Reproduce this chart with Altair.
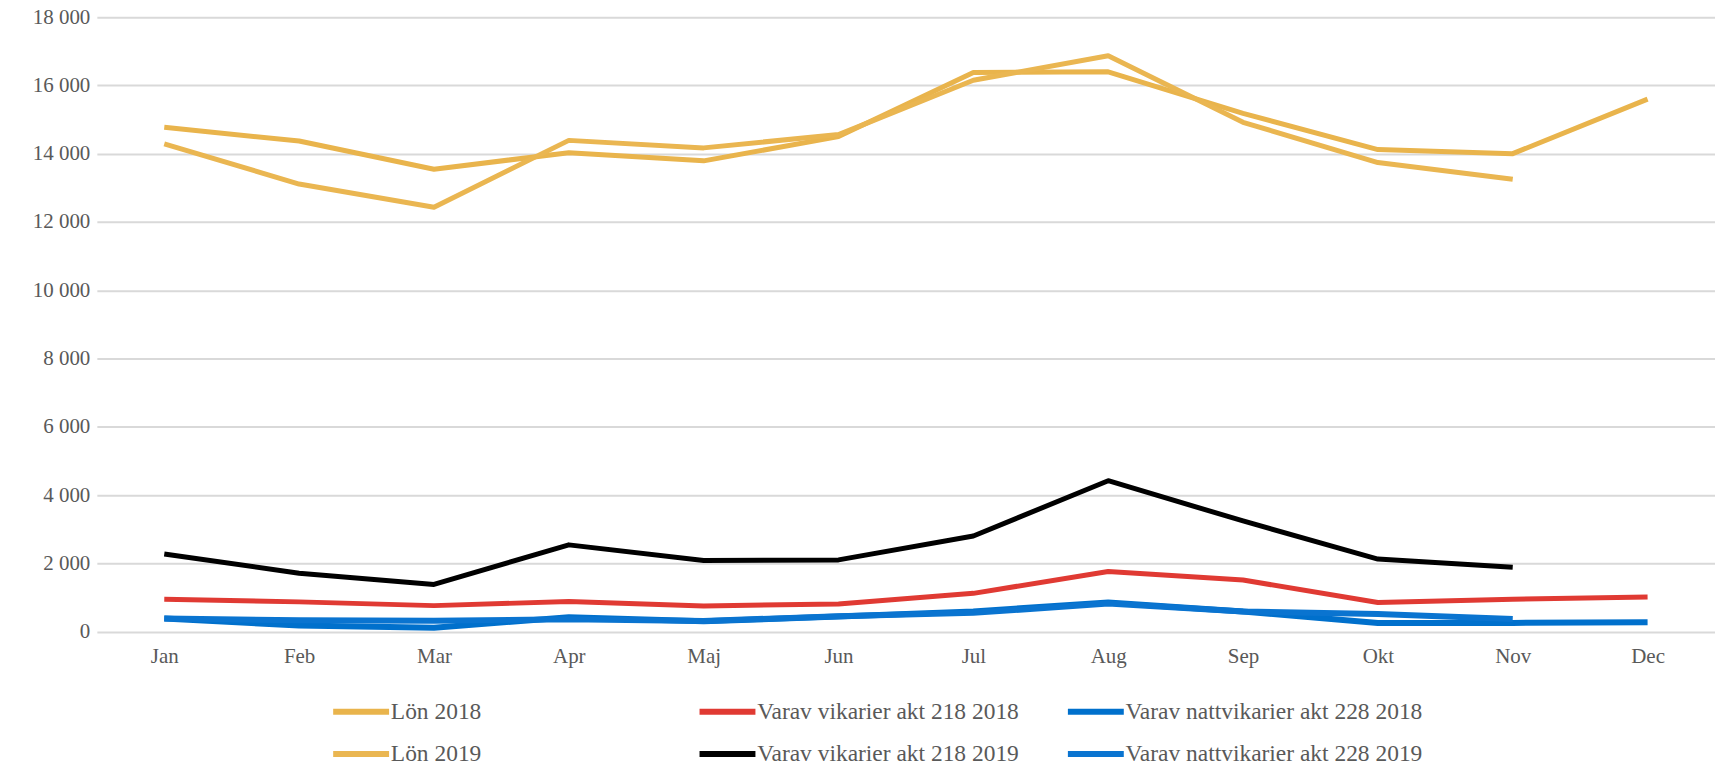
import altair as alt
import pandas as pd

months = ["Jan", "Feb", "Mar", "Apr", "Maj", "Jun", "Jul", "Aug", "Sep", "Okt", "Nov", "Dec"]

lon_2018 = [14775, 14370, 13545, 14030, 13790, 14500, 16380, 16400, 15180, 14120, 14000, 15600]
lon_2019 = [14290, 13110, 12430, 14390, 14170, 14560, 16150, 16870, 14920, 13740, 13250]
vik_2018 = [950, 870, 760, 880, 750, 810, 1120, 1760, 1510, 850, 950, 1010]
vik_2019 = [2270, 1710, 1380, 2540, 2080, 2100, 2800, 4420, 3240, 2125, 1885]
natt_2018 = [380, 175, 110, 420, 300, 440, 590, 850, 590, 254, 254, 273]
natt_2019 = [380, 330, 320, 360, 310, 450, 550, 820, 590, 517, 371]

series_names = [
    "Lön 2018", "Lön 2019",
    "Varav vikarier akt 218 2018", "Varav vikarier akt 218 2019",
    "Varav nattvikarier akt 228 2018", "Varav nattvikarier akt 228 2019",
]
series_groups = ["lon", "lon", "vik", "vik", "natt", "natt"]
series_values = [lon_2018, lon_2019, vik_2018, vik_2019, natt_2018, natt_2019]

rows = []
for name, grp, vals in zip(series_names, series_groups, series_values):
    for i, v in enumerate(vals):
        rows.append({"month": months[i], "idx": i, "value": v, "serie": name, "group": grp})
df = pd.DataFrame(rows)

FONT = "Liberation Serif"
TXT = "#595959"

x_axis = alt.Axis(title=None, labelAngle=0, ticks=False, domain=False, grid=False,
                  labelFont=FONT, labelFontSize=21, labelColor=TXT, labelPadding=14)
y_axis = alt.Axis(title=None, values=list(range(0, 18001, 2000)), ticks=False, domain=False,
                  gridColor="#D9D9D9", gridWidth=2, labelFont=FONT, labelFontSize=21,
                  labelColor=TXT, labelPadding=7,
                  labelExpr="replace(format(datum.value, ','), ',', ' ')")


def layer(group, names, colors, legend_x, sw):
    return alt.Chart(df).transform_filter(alt.datum.group == group).mark_line(
        strokeWidth=sw, strokeJoin="round"
    ).encode(
        x=alt.X("month:N", sort=months, scale=alt.Scale(type="point", padding=0.5, domain=months), axis=x_axis),
        y=alt.Y("value:Q", scale=alt.Scale(domain=[0, 18000]), axis=y_axis),
        color=alt.Color("serie:N", scale=alt.Scale(domain=names, range=colors),
                        legend=alt.Legend(orient="none", legendX=legend_x, legendY=684,
                                          direction="vertical", title=None,
                                          symbolType="M-1,0H7", symbolSize=196,
                                          symbolStrokeWidth=6, labelFont=FONT,
                                          labelFontSize=23.5, labelColor=TXT,
                                          labelOffset=39, labelLimit=500,
                                          rowPadding=17.5, padding=0)),
        order=alt.Order("idx:Q"),
    )


chart = alt.layer(
    layer("lon", series_names[0:2], ["#E9B44C", "#EAB651"], 232, 5),
    layer("vik", series_names[2:4], ["#E03A33", "#000000"], 599, 5),
    layer("natt", series_names[4:6], ["#0070CC", "#0A74D0"], 968, 6),
).resolve_scale(color="independent").properties(
    width=1621, height=615.5,
    autosize=alt.AutoSizeParams(type="none"),
    padding={"left": 89, "top": 8.5, "right": 0, "bottom": 133},
    background="white",
).configure_view(stroke=None)

chart.save("out.html", embed_options={"renderer": "svg", "actions": False})
